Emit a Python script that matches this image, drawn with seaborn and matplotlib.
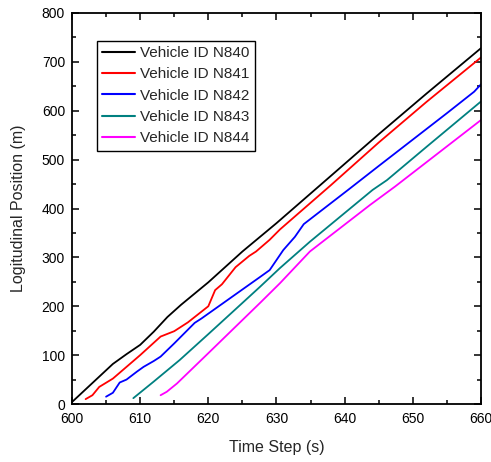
import pandas as pd
import seaborn as sns
import matplotlib.pyplot as plt
from matplotlib.ticker import MultipleLocator

# trajectories (time step s, position m)
t_n840 = [600, 602, 604, 606, 608, 610, 612, 614, 616, 618, 620, 625, 630, 638, 645, 652, 660]
x_n840 = [4, 30, 56, 82, 102, 121, 148, 178, 203, 226, 249, 312, 370, 467, 552, 635, 728]

t_n841 = [602, 603, 604, 606, 608, 610, 613, 615, 617, 620, 621, 622, 624, 626, 627, 629, 630.5, 638, 645, 652, 660]
x_n841 = [10, 18, 35, 52, 76, 100, 138, 149, 167, 200, 233, 245, 280, 303, 312, 336, 357, 448, 535, 618, 709]

t_n842 = [605, 606, 607, 608, 609.5, 610.5, 612, 613, 615, 618, 619, 627.6, 629, 631, 632.7, 634, 640.5, 645, 650, 655, 659, 660]
x_n842 = [15, 23, 44, 50, 66, 76, 88, 97, 124, 166, 175, 260, 274, 315, 342, 368, 438, 487, 541, 595, 639, 654]

t_n843 = [609, 612, 615.8, 620, 624, 627.6, 630.5, 634.9, 644.1, 646.2, 652, 660]
x_n843 = [12, 46, 90, 143, 194, 240, 278, 332, 438, 458, 526, 619]

t_n844 = [613, 613.9, 615.4, 620, 627.6, 630.5, 634.9, 643.7, 647.4, 660]
x_n844 = [18, 25, 42, 104, 207, 247, 312, 407, 445, 581]

vehicles = ['Vehicle ID N840', 'Vehicle ID N841', 'Vehicle ID N842', 'Vehicle ID N843', 'Vehicle ID N844']
colors = ['#000000', '#FF0000', '#0000FF', '#008080', '#FF00FF']

frames = []
for name, t, x in zip(vehicles,
                      [t_n840, t_n841, t_n842, t_n843, t_n844],
                      [x_n840, x_n841, x_n842, x_n843, x_n844]):
    frames.append(pd.DataFrame({'time': t, 'pos': x, 'vehicle': name}))
df = pd.concat(frames, ignore_index=True)

sns.set_style('ticks')
plt.rcParams['font.family'] = ['Liberation Sans', 'DejaVu Sans']

fig = plt.figure(figsize=(4.91, 4.62), dpi=100)
ax = fig.add_axes([0.1466, 0.1255, 0.833, 0.8464])

sns.lineplot(data=df, x='time', y='pos', hue='vehicle', palette=colors,
             estimator=None, sort=False, linewidth=1.3, ax=ax)

ax.set_xlim(600, 660)
ax.set_ylim(0, 800)
ax.xaxis.set_major_locator(MultipleLocator(10))
ax.xaxis.set_minor_locator(MultipleLocator(5))
ax.yaxis.set_major_locator(MultipleLocator(100))
ax.yaxis.set_minor_locator(MultipleLocator(50))
ax.tick_params(which='both', direction='in', top=True, right=True,
               labeltop=False, labelright=False, width=1.1, colors='black')
ax.tick_params(which='major', length=5, labelsize=10)
ax.tick_params(axis='x', which='major', pad=6)
ax.tick_params(axis='y', which='major', pad=5)
ax.tick_params(which='minor', length=3)
for s in ax.spines.values():
    s.set_linewidth(1.3)
    s.set_color('black')

ax.set_xlabel('Time Step (s)', fontsize=11.5, labelpad=10)
ax.set_ylabel('Logitudinal Position (m)', fontsize=11.5, labelpad=11)

leg = ax.legend(loc='upper left', bbox_to_anchor=(0.06, 0.929), fontsize=11,
                frameon=True, fancybox=False, framealpha=1, edgecolor='black',
                handlelength=2.2, handletextpad=0.3, labelspacing=0.48,
                borderpad=0.35, borderaxespad=0)
leg.get_frame().set_linewidth(1.0)
for line in leg.get_lines():
    line.set_linewidth(1.5)

fig.savefig('out.png', dpi=100)
